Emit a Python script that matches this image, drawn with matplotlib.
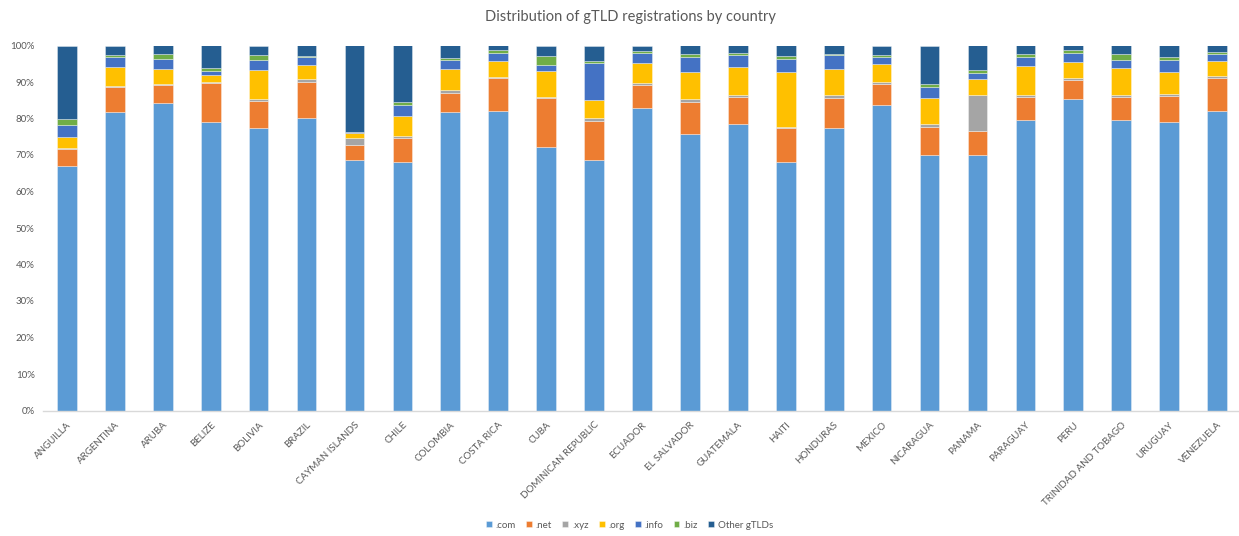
import matplotlib
matplotlib.use("Agg")
import matplotlib.pyplot as plt
import numpy as np
from matplotlib.ticker import FuncFormatter

plt.rcParams['font.family'] = ['Lato', 'DejaVu Sans']

countries = ["ANGUILLA", "ARGENTINA", "ARUBA", "BELIZE", "BOLIVIA", "BRAZIL",
             "CAYMAN ISLANDS", "CHILE", "COLOMBIA", "COSTA RICA", "CUBA",
             "DOMINICAN REPUBLIC", "ECUADOR", "EL SALVADOR", "GUATEMALA", "HAITI",
             "HONDURAS", "MEXICO", "NICARAGUA", "PANAMA", "PARAGUAY", "PERU",
             "TRINIDAD AND TOBAGO", "URUGUAY", "VENEZUELA"]

# Share of registrations (%) per gTLD
com = [67.0, 81.8, 84.3, 79.1, 77.3, 80.0, 68.6, 68.0, 81.7, 82.1, 72.3, 68.6, 82.8,
       75.7, 78.4, 68.0, 77.3, 83.7, 70.0, 70.0, 79.6, 85.3, 79.6, 79.0, 82.1]
net = [4.6, 6.7, 4.9, 10.7, 7.4, 10.1, 4.1, 6.6, 5.2, 8.9, 13.4, 10.8, 6.5,
       8.9, 7.6, 9.3, 8.4, 5.8, 7.8, 6.7, 6.4, 5.3, 6.3, 7.3, 9.0]
xyz = [0.2, 0.3, 0.3, 0.3, 0.6, 0.6, 2.0, 0.7, 0.9, 0.3, 0.2, 0.7, 0.3,
       0.7, 0.4, 0.4, 0.7, 0.6, 0.6, 9.7, 0.4, 0.5, 0.5, 0.5, 0.6]
org = [3.2, 5.2, 4.1, 1.9, 8.1, 4.0, 1.2, 5.4, 5.7, 4.5, 7.1, 5.0, 5.5,
       7.4, 7.6, 15.0, 7.1, 4.7, 7.3, 4.3, 8.0, 4.3, 7.4, 5.9, 4.1]
info = [3.3, 2.8, 2.8, 1.0, 2.6, 2.1, 0.4, 3.0, 2.5, 2.2, 1.7, 10.2, 2.8,
        4.1, 3.4, 3.5, 3.9, 2.0, 3.0, 1.7, 2.4, 2.6, 2.2, 3.3, 2.0]
biz = [1.5, 0.6, 1.4, 0.8, 1.4, 0.4, 0.1, 0.7, 0.5, 0.8, 2.4, 0.5, 0.6,
       1.0, 0.6, 0.9, 0.4, 0.6, 0.8, 0.9, 1.0, 0.8, 1.8, 0.8, 0.3]
other = [20.2, 2.6, 2.2, 6.2, 2.6, 2.8, 23.6, 15.6, 3.5, 1.2, 2.9, 4.2, 1.5,
         2.2, 2.0, 2.9, 2.2, 2.6, 10.5, 6.7, 2.2, 1.2, 2.2, 3.2, 1.9]

series_names = [".com", ".net", ".xyz", ".org", ".info", ".biz", "Other gTLDs"]
series_values = [com, net, xyz, org, info, biz, other]
colors = ["#5B9BD5", "#ED7D31", "#A5A5A5", "#FFC000", "#4472C4", "#70AD47", "#255E91"]

fig = plt.figure(figsize=(12.39, 5.36), dpi=100)
ax = fig.add_axes([43 / 1239, 1 - 410.5 / 536, 1198 / 1239, 365 / 536])

x = np.arange(len(countries))
data = np.array(series_values, dtype=float)
totals = data.sum(axis=0)
shares = data / totals * 100
bottom = np.zeros(len(countries))
for name, vals, col in zip(series_names, shares, colors):
    ax.bar(x, vals, width=0.41, bottom=bottom, color=col, label=name,
           edgecolor=(1, 1, 1, 0.5), linewidth=0.5)
    bottom += vals

ax.set_xlim(-0.5, len(countries) - 0.5)
ax.set_ylim(0, 100)
ax.set_yticks(np.arange(0, 101, 10))
ax.yaxis.set_major_formatter(FuncFormatter(lambda v, p: f"{int(v)}%"))
ax.set_xticks(x)
ax.set_xticklabels(countries, rotation=45, ha="right", rotation_mode="anchor")

for s in ["top", "right", "left"]:
    ax.spines[s].set_visible(False)
ax.spines["bottom"].set_color("#D9D9D9")
ax.spines["bottom"].set_linewidth(1.0)
ax.tick_params(axis="both", length=0, colors="#595959", labelsize=7)
ax.tick_params(axis="x", pad=7)
ax.tick_params(axis="y", pad=6)

fig.text(0.509, 1 - 17 / 536, "Distribution of gTLD registrations by country",
         ha="center", va="center", fontsize=10.5, color="#595959")

handles, labels = ax.get_legend_handles_labels()
fig.legend(handles, labels, loc="center", bbox_to_anchor=(0.508, 1 - 525 / 536),
           ncol=7, frameon=False, fontsize=7, handlelength=0.6, handleheight=0.6,
           handletextpad=0.4, columnspacing=1.05, labelcolor="#595959")

fig.savefig("out.png", dpi=100)
